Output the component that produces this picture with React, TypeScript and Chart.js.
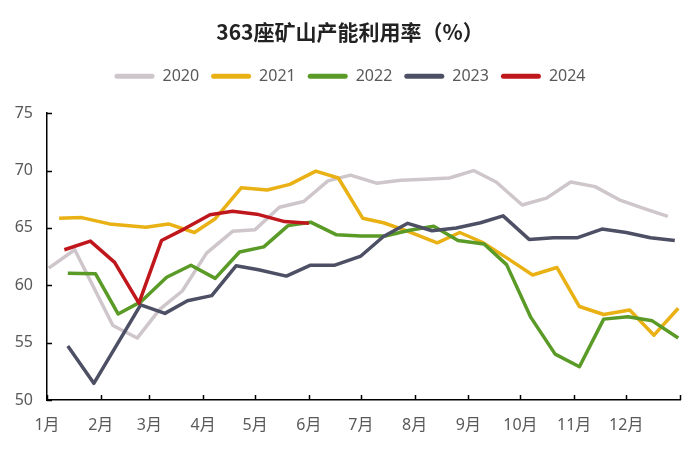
import React, { useEffect, useRef } from "react";
import { Chart, registerables } from "chart.js";

Chart.register(...registerables);

const monthLabels = ["1月", "2月", "3月", "4月", "5月", "6月", "7月", "8月", "9月", "10月", "11月", "12月"];
const monthStarts = [0, 31, 59, 90, 120, 151, 181, 212, 243, 273, 304, 334, 365];
const yTicks = [50, 55, 60, 65, 70, 75];

const dates2020 = ["01-02", "01-17", "02-08", "02-22", "03-07", "03-20", "04-03", "04-18", "05-01", "05-15", "05-29", "06-12", "06-25", "07-10", "07-24", "08-07", "08-21", "09-04", "09-17", "10-02", "10-16", "10-30", "11-13", "11-27", "12-11", "12-25"];
const values2020 = [61.5, 63.1, 56.5, 55.4, 57.9, 59.5, 62.8, 64.7, 64.85, 66.8, 67.3, 69.1, 69.6, 68.9, 69.15, 69.25, 69.35, 70.0, 69.0, 67.0, 67.6, 69.0, 68.6, 67.45, 66.7, 66.0];

const dates2021 = ["01-08", "01-21", "02-06", "02-27", "03-12", "03-27", "04-08", "04-23", "05-08", "05-21", "06-05", "06-18", "07-02", "07-14", "07-30", "08-14", "08-27", "09-09", "09-24", "10-08", "10-22", "11-04", "11-18", "12-03", "12-17", "12-31"];
const values2021 = [65.85, 65.9, 65.35, 65.05, 65.35, 64.6, 65.8, 68.5, 68.3, 68.8, 69.95, 69.35, 65.85, 65.45, 64.6, 63.7, 64.6, 63.75, 62.3, 60.9, 61.55, 58.15, 57.45, 57.85, 55.65, 58.0];

const dates2022 = ["01-13", "01-29", "02-11", "02-24", "03-11", "03-25", "04-08", "04-22", "05-06", "05-20", "06-02", "06-17", "07-01", "07-15", "07-29", "08-12", "08-26", "09-10", "09-23", "10-07", "10-21", "11-04", "11-18", "12-02", "12-16", "12-31"];
const values2022 = [61.05, 61.0, 57.5, 58.55, 60.7, 61.75, 60.6, 62.9, 63.35, 65.2, 65.5, 64.4, 64.3, 64.3, 64.8, 65.15, 63.9, 63.6, 61.8, 57.2, 54.0, 52.9, 57.05, 57.25, 56.9, 55.4];

const dates2023 = ["01-13", "01-28", "02-24", "03-10", "03-23", "04-06", "04-20", "05-03", "05-19", "06-02", "06-16", "07-01", "07-14", "07-28", "08-11", "08-25", "09-08", "09-21", "10-06", "10-20", "11-03", "11-17", "12-01", "12-15", "12-29"];
const values2023 = [54.7, 51.45, 58.3, 57.55, 58.65, 59.1, 61.7, 61.35, 60.8, 61.75, 61.75, 62.55, 64.25, 65.4, 64.75, 65.0, 65.45, 66.05, 64.0, 64.15, 64.15, 64.9, 64.6, 64.15, 63.9];

const dates2024 = ["01-11", "01-26", "02-09", "02-23", "03-08", "03-21", "04-05", "04-18", "05-02", "05-18", "06-01"];
const values2024 = [63.1, 63.85, 62.0, 58.45, 63.9, 64.9, 66.15, 66.45, 66.2, 65.55, 65.4];

const seriesNames = ["2020", "2021", "2022", "2023", "2024"];
const seriesColors = ["#cec6cb", "#e9b114", "#5a9a26", "#4d4f64", "#c0171c"];

function dayOfYear(md: string): number {
  const [m, d] = md.split("-").map(Number);
  return monthStarts[m - 1] + d - 1;
}

function toPoints(dates: string[], values: number[]) {
  return dates.map((d, i) => ({ x: dayOfYear(d), y: values[i] }));
}

const allDates = [dates2020, dates2021, dates2022, dates2023, dates2024];
const allValues = [values2020, values2021, values2022, values2023, values2024];

const inwardTicks = {
  id: "inwardTicks",
  afterDraw(chart: any) {
    const { ctx, chartArea } = chart;
    const xs = chart.scales.x;
    const ys = chart.scales.y;
    ctx.save();
    ctx.strokeStyle = "#000";
    ctx.lineWidth = 1.5;
    ctx.beginPath();
    for (const v of monthStarts) {
      const px = Math.round(xs.getPixelForValue(v)) + 0.5;
      ctx.moveTo(px, chartArea.bottom);
      ctx.lineTo(px, chartArea.bottom - 5);
    }
    for (const v of yTicks) {
      const py = Math.round(ys.getPixelForValue(v)) + 0.5;
      ctx.moveTo(chartArea.left, py);
      ctx.lineTo(chartArea.left + 5, py);
    }
    ctx.stroke();
    ctx.restore();
  },
};

export default function App() {
  const ref = useRef<HTMLCanvasElement | null>(null);

  useEffect(() => {
    if (!ref.current) return;
    const font = "'Noto Sans', 'Noto Sans CJK SC', sans-serif";
    const chart = new Chart(ref.current, {
      type: "line",
      data: {
        datasets: seriesNames.map((name, i) => ({
          label: name,
          data: toPoints(allDates[i], allValues[i]),
          borderColor: seriesColors[i],
          backgroundColor: seriesColors[i],
          borderWidth: 3.5,
          pointRadius: 0,
          tension: 0,
          borderJoinStyle: "round" as const,
          order: seriesNames.length - 1 - i,
        })),
      },
      options: {
        animation: false,
        responsive: true,
        maintainAspectRatio: false,
        layout: { padding: { left: 0, right: 0, top: 0, bottom: 0 } },
        plugins: {
          title: {
            display: true,
            text: "363座矿山产能利用率（%）",
            color: "#222",
            font: { family: "'Noto Sans CJK SC', sans-serif", size: 21, weight: "bold", lineHeight: 1.2 },
            padding: { top: 19, bottom: 12 },
          },
          subtitle: {
            display: true,
            text: "",
            weight: 500,
            position: "top",
            font: { size: 19, lineHeight: 1 },
            padding: 0,
          } as any,
          legend: {
            display: true,
            position: "top",
            labels: {
              color: "#595959",
              font: { family: font, size: 16 },
              boxWidth: 40,
              boxHeight: 5,
              padding: 12,
              useBorderRadius: true,
              borderRadius: 2.5,
              sort: (a: any, b: any) => a.datasetIndex - b.datasetIndex,
              generateLabels: (chart: any) =>
                Chart.defaults.plugins.legend.labels.generateLabels(chart).map((l: any) => ({
                  ...l,
                  lineWidth: 0,
                  borderRadius: 2.5,
                })),
            },
          },
          tooltip: { enabled: false },
        },
        scales: {
          x: {
            type: "linear",
            min: 0,
            max: 365,
            afterBuildTicks: (s: any) => {
              s.ticks = monthStarts.map((v) => ({ value: v }));
            },
            afterFit: (s: any) => {
              s.height = 51;
            },
            ticks: {
              autoSkip: false,
              maxRotation: 0,
              padding: 16,
              color: "#595959",
              font: { family: font, size: 16 },
              callback: (_v: any, i: number) => (i < monthLabels.length ? monthLabels[i] : ""),
            },
            grid: { display: false, drawTicks: false },
            border: { display: true, color: "#000", width: 1.5 },
          },
          y: {
            type: "linear",
            min: 50,
            max: 75,
            afterBuildTicks: (s: any) => {
              s.ticks = yTicks.map((v) => ({ value: v }));
            },
            afterFit: (s: any) => {
              s.width = 47;
            },
            ticks: {
              padding: 14,
              color: "#595959",
              font: { family: font, size: 16 },
            },
            grid: { display: false, drawTicks: false },
            border: { display: true, color: "#000", width: 1.5 },
          },
          yRightSpace: {
            type: "linear",
            position: "right",
            display: true,
            min: 50,
            max: 75,
            afterFit: (s: any) => {
              s.width = 20;
            },
            ticks: { display: false },
            grid: { display: false, drawTicks: false },
            border: { display: false },
          },
        },
      },
      plugins: [inwardTicks],
    });
    return () => chart.destroy();
  }, []);

  return (
    <div style={{ position: "absolute", left: 0, top: 0, width: 700, height: 451, background: "#fff" }}>
      <canvas ref={ref} />
    </div>
  );
}
